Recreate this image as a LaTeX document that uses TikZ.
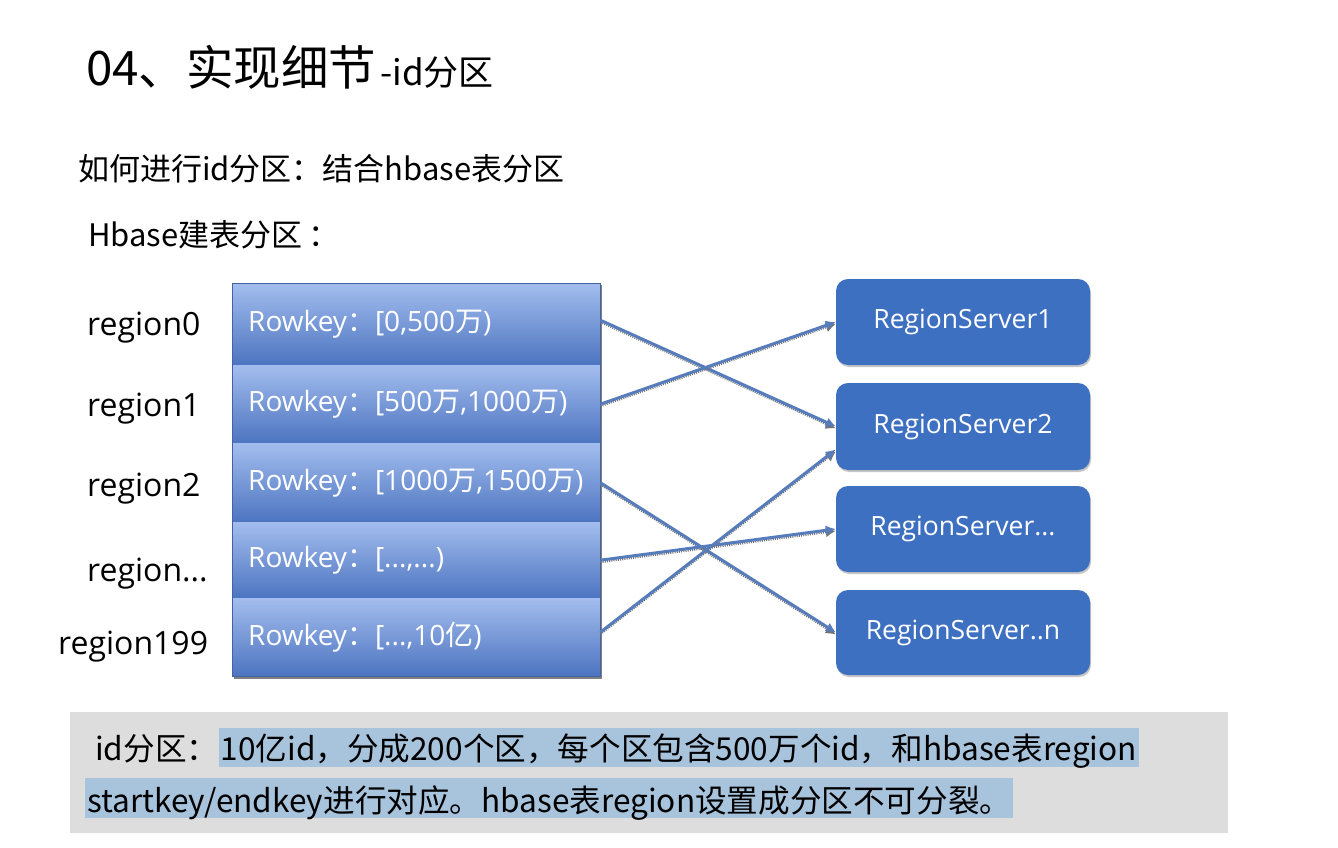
\documentclass[tikz,border=0pt]{standalone}
\usepackage{fontspec}
\setmainfont{Open Sans}
\newfontfamily\zh{Noto Sans CJK SC}
\newcommand\cn[1]{{\zh #1}}
\newcommand\fsz[1]{\fontsize{#1}{#1}\selectfont}
\usetikzlibrary{arrows.meta,shadows}
\definecolor{rowtop}{RGB}{163,189,238}
\definecolor{rowbot}{RGB}{76,116,192}
\definecolor{srv}{RGB}{62,112,194}
\definecolor{conc}{RGB}{86,124,188}
\definecolor{graybox}{RGB}{221,221,221}
\definecolor{hl}{RGB}{168,195,220}
\begin{document}
\begin{tikzpicture}[x=1pt,y=-1pt,
  rowbox/.style={top color=rowtop, bottom color=rowbot, text=white,
    text width=336pt, inner xsep=16pt, inner ysep=0pt, align=left,
    font=\fsz{28}, anchor=north west},
  server/.style={rounded corners=12pt, fill=srv, text=white,
    minimum width=254pt, inner sep=0pt, font=\fsz{26.5},
    drop shadow={shadow xshift=1pt, shadow yshift=-2pt, fill=black!45}},
  lbl/.style={anchor=base west, inner sep=0pt, font=\fsz{32}},
  conn/.style={draw=conc, line width=3pt, -{Latex[length=10pt,width=10pt]},
    preaction={draw=black!55, line width=2pt, dash pattern=on 1pt off 1.2pt,
      transform canvas={yshift=-2pt}}},
  cjktext/.style={anchor=base west, inner sep=0pt, font=\zh\fsz{31}},
  notetext/.style={anchor=base west, inner ysep=0pt, font=\zh\fsz{31.6}}
]
\useasboundingbox (0,0) rectangle (1338,848);
\fill[white] (0,0) rectangle (1338,848);

% title
\node[anchor=base west, inner sep=0pt] (title) at (86,86)
  {\zh{\fsz{47.5}04、实现细节}\hspace{4pt}{\fsz{35}-id分区}};
\node[cjktext] (sub) at (78,180) {如何进行id分区：结合hbase表分区};
\node[cjktext] (hb) at (88,246) {Hbase建表分区\hspace{6pt}：};

% region labels
\node[lbl] (g0) at (87,335) {region0};
\node[lbl] (g1) at (87,416) {region1};
\node[lbl] (g2) at (87,496) {region2};
\node[lbl] (g3) at (87,581) {region...};
\node[lbl] (g4) at (58,654) {region199};

% region stack
\fill[black!50] (234,285) rectangle (602,679);
\node[rowbox, minimum height=82pt] (r0) at (232,283) {Rowkey\cn{：}[0,500\cn{万})};
\node[rowbox, minimum height=78pt] (r1) at (232,365) {Rowkey\cn{：}[500\cn{万},1000\cn{万})};
\node[rowbox, minimum height=79pt] (r2) at (232,443) {Rowkey\cn{：}[1000\cn{万},1500\cn{万})};
\node[rowbox, minimum height=76pt] (r3) at (232,522) {Rowkey\cn{：}[...,...)};
\node[rowbox, minimum height=78pt] (r4) at (232,598) {Rowkey\cn{：}[...,10\cn{亿})};
\draw[rowbot!85!black, line width=0.8pt] (r0.north west) rectangle (r4.south east);

% region servers
\node[server, minimum height=86pt] (s1) at (963,322) {RegionServer1};
\node[server, minimum height=87pt] (s2) at (963,426.5) {RegionServer2};
\node[server, minimum height=86pt] (s3) at (963,529) {RegionServer...};
\node[server, minimum height=85pt] (s4) at (963,632.5) {RegionServer..n};

% connectors
\draw[conn] ([yshift=4pt]r0.east) -- (s2.west);
\draw[conn] (r1.east) -- (s1.west);
\draw[conn] (r2.east) -- (s4.west);
\draw[conn] (r3.east) -- (s3.west);
\draw[conn] ([yshift=5pt]r4.east) -- ([yshift=-23pt]s2.west);

% note box
\node[fill=graybox, minimum width=1158pt, minimum height=121pt, inner sep=0pt,
  anchor=north west] (note) at (70,712) {};
\node[notetext, inner xsep=0pt] (n1a) at (95,760) {id分区：};
\node[notetext, fill=hl, inner xsep=2pt, text height=32pt, text depth=7pt]
  (n1b) at (n1a.base east)
  {10亿id，分成200个区，每个区包含500万个id，和hbase表region};
\node[notetext, fill=hl, inner xsep=2pt, text height=34pt, text depth=6pt]
  (n2) at (85,812)
  {startkey/endkey进行对应。hbase表region设置成分区不可分裂。};
\end{tikzpicture}
\end{document}
